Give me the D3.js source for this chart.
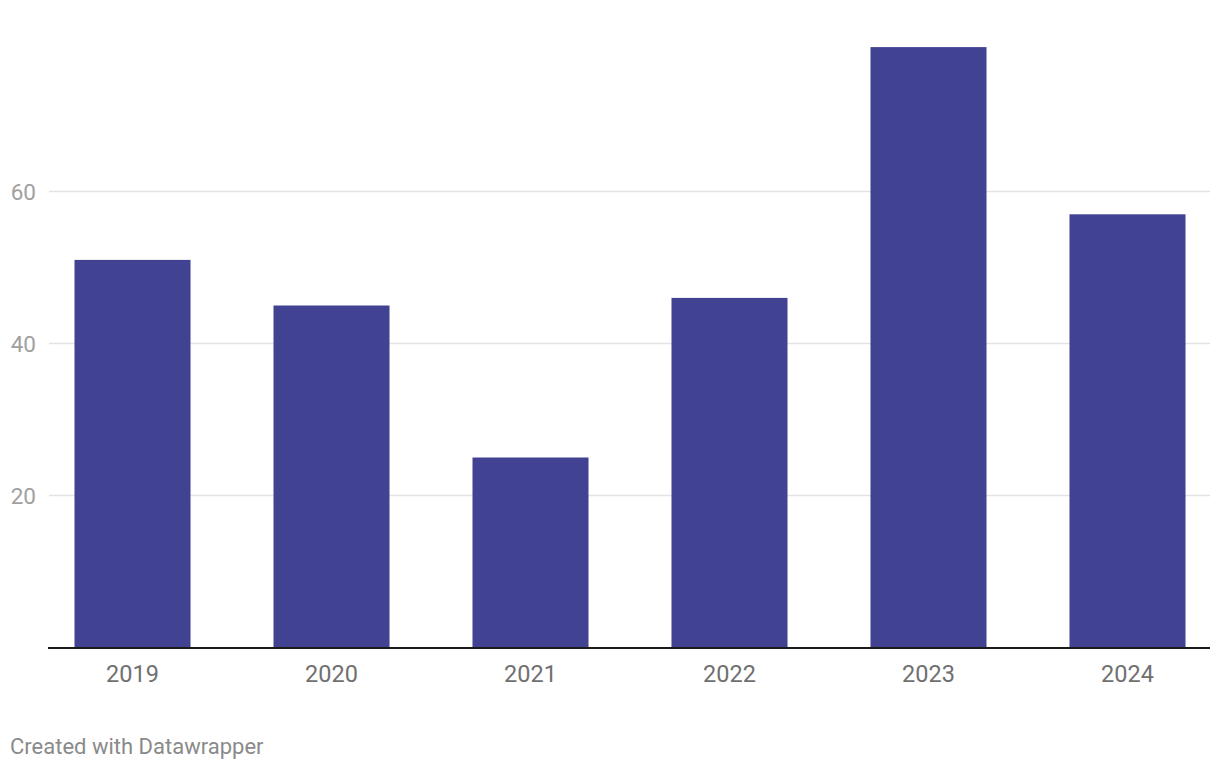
<!DOCTYPE html>
<html>
<head>
<meta charset="utf-8">
<script src="https://cdn.jsdelivr.net/npm/d3@7"></script>
<style>
  html, body { margin: 0; padding: 0; background: #fff; }
  svg { display: block; font-family: Roboto, "Noto Sans", sans-serif; }
</style>
</head>
<body>
<svg id="chart" width="1220" height="770"></svg>
<script>
const categories = ["2019", "2020", "2021", "2022", "2023", "2024"];
const values = [51, 45, 25, 46, 79, 57];
const yTicks = [20, 40, 60];
const footer = "Created with Datawrapper";

const svg = d3.select("#chart");

const x = d3.scaleBand().domain(categories).range([74.5, 1185.5]).paddingInner(0.417).paddingOuter(0);
const y = d3.scaleLinear().domain([0, 60]).range([647.5, 191.5]);

// gridlines
svg.append("g").selectAll("line").data(yTicks).join("line")
  .attr("x1", 49).attr("x2", 1210)
  .attr("y1", d => y(d)).attr("y2", d => y(d))
  .attr("stroke", "#e3e3e3").attr("stroke-width", 1.3);

// y labels
svg.append("g").selectAll("text").data(yTicks).join("text")
  .attr("x", 36).attr("y", d => y(d) + 8)
  .attr("text-anchor", "end")
  .attr("font-size", 22.5).attr("fill", "#a0a0a0")
  .text(d => d);

// bars
svg.append("g").selectAll("rect").data(values).join("rect")
  .attr("x", (d, i) => x(categories[i]))
  .attr("width", x.bandwidth())
  .attr("y", d => y(d))
  .attr("height", d => y(0) - y(d))
  .attr("fill", "#414291");

// baseline
svg.append("line")
  .attr("x1", 48).attr("x2", 1210)
  .attr("y1", y(0) + 0.5).attr("y2", y(0) + 0.5)
  .attr("stroke", "#1a1a1a").attr("stroke-width", 2);

// x labels
svg.append("g").selectAll("text").data(categories).join("text")
  .attr("x", d => x(d) + x.bandwidth() / 2)
  .attr("y", 682)
  .attr("text-anchor", "middle")
  .attr("font-size", 23.5).attr("fill", "#707070")
  .text(d => d);

// footer
svg.append("text")
  .attr("x", 10).attr("y", 754)
  .attr("font-size", 22).attr("fill", "#8a8a8a")
  .text(footer);
</script>
</body>
</html>
